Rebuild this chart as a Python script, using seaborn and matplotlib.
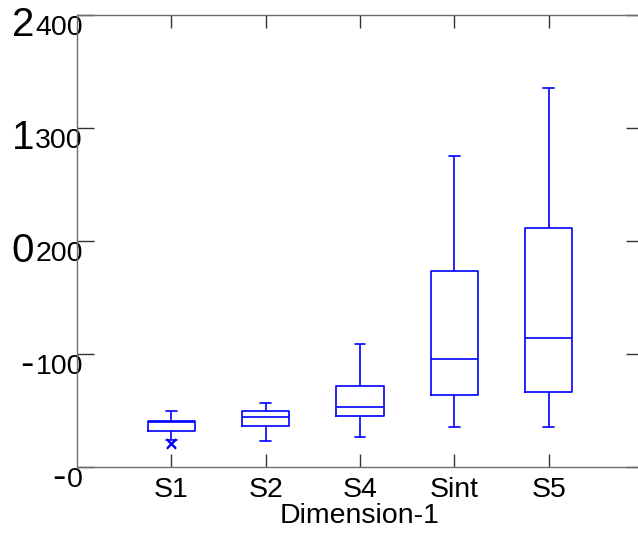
import numpy as np
import pandas as pd
import matplotlib
matplotlib.use("Agg")
import matplotlib.pyplot as plt
import seaborn as sns

# ---- data ----
categories = ["S1", "S2", "S4", "Sint", "S5"]
whisker_low = [23.8, 23.3, 26.8, 35.1, 35.1]
q1 = [32.0, 36.3, 45.4, 63.4, 66.4]
median = [40.2, 44.5, 53.4, 95.3, 114.2]
q3 = [40.9, 49.3, 72.0, 173.2, 211.2]
whisker_high = [49.4, 57.0, 109.1, 275.5, 335.1]
outlier_group = ["S1", "S1"]
outlier_values = [21.5, 20.6]
ytick_values = [0, 100, 200, 300, 400]
ytick_small = ["0", "100", "200", "300", "400"]
ytick_big = ["-", "-", "0", "1", "2"]
x_label = "Dimension-1"

# five-number samples reproduce the box statistics exactly (whis=(0,100))
rows = []
for i, c in enumerate(categories):
    for v in (whisker_low[i], q1[i], median[i], q3[i], whisker_high[i]):
        rows.append({"group": c, "value": v})
df = pd.DataFrame(rows)
df_out = pd.DataFrame({"group": outlier_group, "value": outlier_values})

sns.set_style("white")
plt.rcParams["font.family"] = ["Liberation Sans", "DejaVu Sans"]

BLUE = "#0000ff"
FS = 20.5
fig = plt.figure(figsize=(6.38, 5.48), dpi=100)
ax = fig.add_axes([77 / 638, 81 / 548, 566 / 638, 452 / 548])

sns.boxplot(data=df, x="group", y="value", order=categories, whis=(0, 100),
            width=0.5, fill=False, color=BLUE, linecolor=BLUE, linewidth=1.2,
            showfliers=False, ax=ax)
sns.stripplot(data=df_out, x="group", y="value", order=categories, jitter=False,
              marker="x", color=BLUE, size=6.5, linewidth=1.2, ax=ax)

# narrow whisker caps as in the reference
cap_half = 0.057
for cont in ax.containers:
    caps = getattr(cont, "caps", None)
    if caps is None:
        continue
    for cap in caps:
        xd = np.asarray(cap.get_xdata(), dtype=float)
        c = xd.mean()
        cap.set_xdata([c - cap_half, c + cap_half])

ax.set_xlim(-1, 5)
ax.set_ylim(0, 400)

for s in ax.spines.values():
    s.set_visible(True)
    s.set_color("#6e6e6e")
    s.set_linewidth(1.0)

ax.tick_params(axis="both", direction="in", colors="#333333", width=1.0)
ax.tick_params(axis="y", left=True, right=True, length=12.2, pad=-4.3)
ax.tick_params(axis="x", bottom=True, top=True, length=9.4, pad=7.2)

ax.set_yticks(ytick_values)
ax.set_yticklabels(ytick_small, fontsize=FS, va="top", color="black")
ax.set_xticks(range(len(categories)))
ax.set_xticklabels(categories, fontsize=FS, color="black")
ax.set_xlabel(x_label, fontsize=FS, labelpad=0.0, color="black")
ax.set_ylabel("")

for lab, big in zip(ax.get_yticklabels(), ytick_big):
    ax.annotate(big, xy=(0, 0), xycoords=lab, xytext=(-1, -2.0),
                textcoords="offset points", ha="right", va="bottom",
                fontsize=29, color="black", annotation_clip=False)

fig.savefig("out.png", dpi=100)
